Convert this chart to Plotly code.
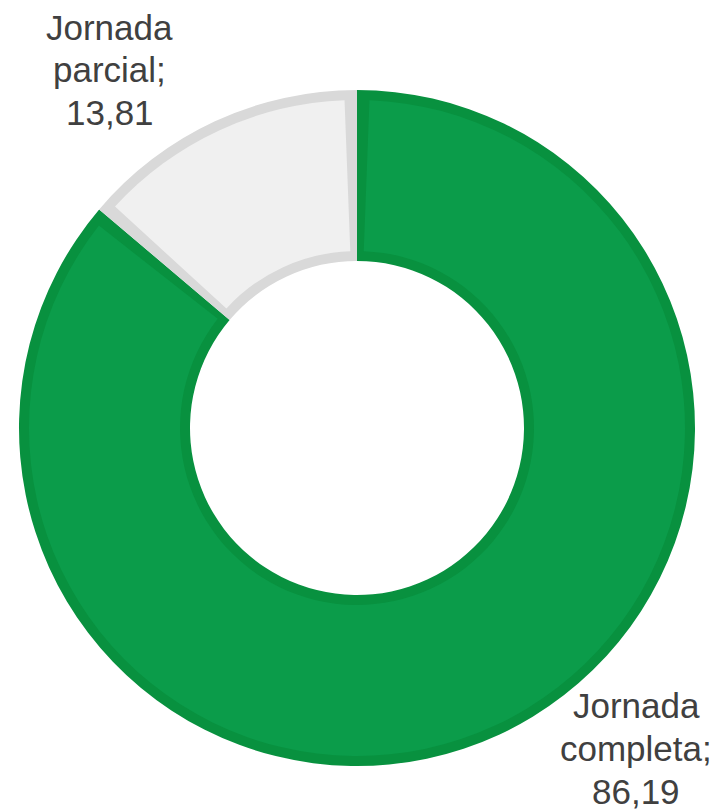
import plotly.graph_objects as go

# Share of employment by type of working day (%)
categories = ["Jornada completa", "Jornada parcial"]
shares = [86.19, 13.81]

face_colors = ["#0b9c4a", "#f0f0f0"]
edge_colors = ["#08913f", "#d9d9d9"]
label_color = "#404040"

W, H = 722, 812
cx, cy = 357, 428          # ring centre in page pixels (y from top)
r_outer, r_inner = 338, 167
edge_px = 10               # width of the inset outline of each slice
edge_gap = 0.605           # share units left open on each side of a slice face


def domain(r):
    return dict(x=[(cx - r) / W, (cx + r) / W],
                y=[(H - cy - r) / H, (H - cy + r) / H])


fig = go.Figure()

# Outline layer: full slices in the outline colours
fig.add_trace(go.Pie(
    labels=categories, values=shares, sort=False,
    direction="clockwise", rotation=0,
    hole=r_inner / r_outer, domain=domain(r_outer),
    marker=dict(colors=edge_colors, line=dict(width=0)),
    textinfo="none", hoverinfo="label+value", showlegend=False,
))

# Face layer: slightly smaller slices in the fill colours
face_labels, face_values, face_fill = [], [], []
for cat, v, c in zip(categories, shares, face_colors):
    face_labels += [cat + " a", cat, cat + " b"]
    face_values += [edge_gap, v - 2 * edge_gap, edge_gap]
    face_fill += ["rgba(0,0,0,0)", c, "rgba(0,0,0,0)"]

r_face_out = r_outer - edge_px
r_face_in = r_inner + edge_px
fig.add_trace(go.Pie(
    labels=face_labels, values=face_values, sort=False,
    direction="clockwise", rotation=0,
    hole=r_face_in / r_face_out, domain=domain(r_face_out),
    marker=dict(colors=face_fill, line=dict(width=0)),
    textinfo="none", hoverinfo="skip", showlegend=False,
))


def label_lines(cat, v):
    return cat.split(" ")[:-1] + [cat.split(" ")[-1] + ";", f"{v:.2f}".replace(".", ",")]


# Label block centres (page pixels, y from top) and line pitch
label_pos = {"Jornada parcial": (110, 70), "Jornada completa": (636, 748)}
line_pitch = 43
label_font = dict(family="Liberation Sans, Arial, sans-serif", size=35, color=label_color)

for cat, v in zip(categories, shares):
    px, py = label_pos[cat]
    lines = label_lines(cat, v)
    n = len(lines)
    for i, line in enumerate(lines):
        ly = py + (i - (n - 1) / 2) * line_pitch
        fig.add_annotation(
            x=px / W, y=(H - ly) / H, xref="paper", yref="paper",
            text=line, showarrow=False,
            xanchor="center", yanchor="middle", align="center",
            font=label_font,
        )

fig.update_layout(
    width=W, height=H,
    margin=dict(l=0, r=0, t=0, b=0),
    paper_bgcolor="white", plot_bgcolor="white",
    showlegend=False,
)

fig.write_html("out.html")
